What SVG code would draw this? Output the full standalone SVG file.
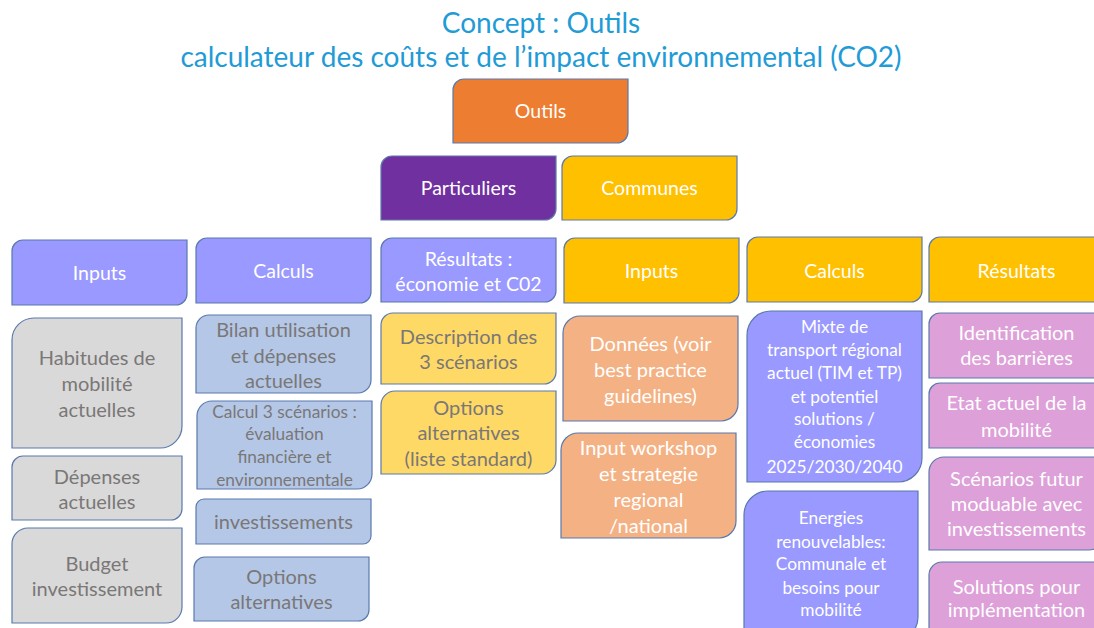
<svg xmlns="http://www.w3.org/2000/svg" width="1094" height="628" viewBox="0 0 1094 628">
<style>
  .box { stroke: #5a79ad; stroke-width: 1.2; }
  .orange { fill: #ED7D31; }
  .purple { fill: #7030A0; }
  .gold { fill: #FFC000; }
  .lav { fill: #9999FF; }
  .grey { fill: #D9D9D9; }
  .sky { fill: #B4C7E7; }
  .pale { fill: #FFD966; }
  .salmon { fill: #F4B183; }
  .plum { fill: #DDA0D8; }
  text { font-family: Lato, "Open Sans", "Liberation Sans", sans-serif; text-anchor: middle; }
  .w { fill: #ffffff; }
  .g { fill: #7a7777; }
  .title { fill: #1f9bd6; font-size: 28px; }
  .h { font-size: 19.5px; }
  .b { font-size: 20px; }
  .s { font-size: 17.3px; }
</style>

<g id="title">
  <text class="title" x="541" y="33">Concept : Outils</text>
  <text class="title" x="541" y="67">calculateur des coûts et de l’impact environnemental (CO2)</text>
</g>

<g id="outils">
  <path class="box orange" d="M464 79 H628 V132 A11 11 0 0 1 617 143 H453 V90 A11 11 0 0 1 464 79Z"/>
  <text class="w h" x="540.5" y="118">Outils</text>
</g>
<g id="particuliers">
  <path class="box purple" d="M392 156 H556 V209 A11 11 0 0 1 545 220 H381 V167 A11 11 0 0 1 392 156Z"/>
  <text class="w h" x="468.5" y="195">Particuliers</text>
</g>
<g id="communes">
  <path class="box gold" d="M573 156 H737 V209 A11 11 0 0 1 726 220 H562 V167 A11 11 0 0 1 573 156Z"/>
  <text class="w h" x="649.5" y="195">Communes</text>
</g>

<!-- particuliers: column headers -->
<g id="p-inputs">
  <path class="box lav" d="M23 240 H187 V294 A11 11 0 0 1 176 305 H12 V251 A11 11 0 0 1 23 240Z"/>
  <text class="w h" x="99.5" y="280">Inputs</text>
</g>
<g id="p-calculs">
  <path class="box lav" d="M207 238 H371 V292 A11 11 0 0 1 360 303 H196 V249 A11 11 0 0 1 207 238Z"/>
  <text class="w h" x="283.5" y="278">Calculs</text>
</g>
<g id="p-resultats">
  <path class="box lav" d="M392 238 H556 V291 A11 11 0 0 1 545 302 H381 V249 A11 11 0 0 1 392 238Z"/>
  <text class="w h" x="468.5" y="266">Résultats :</text>
  <text class="w h" x="468.5" y="291">économie et C02</text>
</g>

<!-- communes: column headers -->
<g id="c-inputs">
  <path class="box gold" d="M575 238 H739 V292 A11 11 0 0 1 728 303 H564 V249 A11 11 0 0 1 575 238Z"/>
  <text class="w h" x="651.5" y="278">Inputs</text>
</g>
<g id="c-calculs">
  <path class="box gold" d="M758 237 H922 V291 A11 11 0 0 1 911 302 H747 V248 A11 11 0 0 1 758 237Z"/>
  <text class="w h" x="834.5" y="278">Calculs</text>
</g>
<g id="c-resultats">
  <path class="box gold" d="M940 237 H1104 V291 A11 11 0 0 1 1093 302 H929 V248 A11 11 0 0 1 940 237Z"/>
  <text class="w h" x="1016.5" y="278">Résultats</text>
</g>

<!-- particuliers: inputs -->
<g id="habitudes">
  <path class="box grey" d="M34 318 H182 V426 A22 22 0 0 1 160 448 H12 V340 A22 22 0 0 1 34 318Z"/>
  <text class="g b" x="97" y="365">Habitudes de</text>
  <text class="g b" x="97" y="391">mobilité</text>
  <text class="g b" x="97" y="417">actuelles</text>
</g>
<g id="depenses">
  <path class="box grey" d="M23 456 H182 V509 A11 11 0 0 1 171 520 H12 V467 A11 11 0 0 1 23 456Z"/>
  <text class="g b" x="97" y="484">Dépenses</text>
  <text class="g b" x="97" y="509">actuelles</text>
</g>
<g id="budget">
  <path class="box grey" d="M28 528 H182 V607 A16 16 0 0 1 166 623 H12 V544 A16 16 0 0 1 28 528Z"/>
  <text class="g b" x="97" y="571">Budget</text>
  <text class="g b" x="97" y="596">investissement</text>
</g>

<!-- particuliers: calculs -->
<g id="bilan">
  <path class="box sky" d="M209 315 H371 V380 A13 13 0 0 1 358 393 H196 V328 A13 13 0 0 1 209 315Z"/>
  <text class="g b" x="283.5" y="337">Bilan utilisation</text>
  <text class="g b" x="283.5" y="363">et dépenses</text>
  <text class="g b" x="283.5" y="388">actuelles</text>
</g>
<g id="calcul-scenarios">
  <path class="box sky" d="M212 401 H372 V474 A15 15 0 0 1 357 489 H197 V416 A15 15 0 0 1 212 401Z"/>
  <text class="g s" x="284.5" y="418">Calcul 3 scénarios :</text>
  <text class="g s" x="284.5" y="440">évaluation</text>
  <text class="g s" x="284.5" y="463">financière et</text>
  <text class="g s" x="284.5" y="486">environnementale</text>
</g>
<g id="investissements">
  <path class="box sky" d="M204 499 H371 V536 A8 8 0 0 1 363 544 H196 V507 A8 8 0 0 1 204 499Z"/>
  <text class="g b" x="283.5" y="529">investissements</text>
</g>
<g id="options">
  <path class="box sky" d="M205 557 H369 V610 A11 11 0 0 1 358 621 H194 V568 A11 11 0 0 1 205 557Z"/>
  <text class="g b" x="281.5" y="584">Options</text>
  <text class="g b" x="281.5" y="609">alternatives</text>
</g>

<!-- particuliers: résultats -->
<g id="description">
  <path class="box pale" d="M393 313 H556 V372 A12 12 0 0 1 544 384 H381 V325 A12 12 0 0 1 393 313Z"/>
  <text class="g b" x="468.5" y="344">Description des</text>
  <text class="g b" x="468.5" y="369">3 scénarios</text>
</g>
<g id="options-liste">
  <path class="box pale" d="M395 391 H556 V460 A14 14 0 0 1 542 474 H381 V405 A14 14 0 0 1 395 391Z"/>
  <text class="g b" x="468.5" y="415">Options</text>
  <text class="g b" x="468.5" y="440">alternatives</text>
  <text class="g b" x="468.5" y="466">(liste standard)</text>
</g>

<!-- communes: inputs -->
<g id="donnees">
  <path class="box salmon" d="M580 316 H738 V404 A17 17 0 0 1 721 421 H563 V333 A17 17 0 0 1 580 316Z"/>
  <text class="w b" x="650.5" y="351">Données (voir</text>
  <text class="w b" x="650.5" y="377">best practice</text>
  <text class="w b" x="650.5" y="403">guidelines)</text>
</g>
<g id="workshop">
  <path class="box salmon" d="M578 433 H736 V521 A17 17 0 0 1 719 538 H561 V450 A17 17 0 0 1 578 433Z"/>
  <text class="w b" x="648.5" y="455">Input workshop</text>
  <text class="w b" x="648.5" y="481">et strategie</text>
  <text class="w b" x="648.5" y="507">regional</text>
  <text class="w b" x="648.5" y="533">/national</text>
</g>

<!-- communes: calculs -->
<g id="mixte">
  <path class="box lav" d="M771 311 H922 V458 A24 24 0 0 1 898 482 H747 V335 A24 24 0 0 1 771 311Z"/>
  <text class="w s" x="834.5" y="333">Mixte de</text>
  <text class="w s" x="834.5" y="356">transport régional</text>
  <text class="w s" x="834.5" y="379">actuel (TIM et TP)</text>
  <text class="w s" x="834.5" y="403">et potentiel</text>
  <text class="w s" x="834.5" y="425">solutions /</text>
  <text class="w s" x="834.5" y="448">économies</text>
  <text class="w s" x="834.5" y="473">2025/2030/2040</text>
</g>
<g id="energies">
  <path class="box lav" d="M768 491 H918 V617 A24 24 0 0 1 894 641 H744 V515 A24 24 0 0 1 768 491Z"/>
  <text class="w s" x="831" y="524">Energies</text>
  <text class="w s" x="831" y="548">renouvelables:</text>
  <text class="w s" x="831" y="570">Communale et</text>
  <text class="w s" x="831" y="594">besoins pour</text>
  <text class="w s" x="831" y="616">mobilité</text>
</g>

<!-- communes: résultats -->
<g id="barrieres">
  <path class="box plum" d="M940 313 H1104 V367 A11 11 0 0 1 1093 378 H929 V324 A11 11 0 0 1 940 313Z"/>
  <text class="w b" x="1016.5" y="340">Identification</text>
  <text class="w b" x="1016.5" y="365">des barrières</text>
</g>
<g id="etat">
  <path class="box plum" d="M940 383 H1104 V437 A11 11 0 0 1 1093 448 H929 V394 A11 11 0 0 1 940 383Z"/>
  <text class="w b" x="1016.5" y="410">Etat actuel de la</text>
  <text class="w b" x="1016.5" y="437">mobilité</text>
</g>
<g id="scenarios-futur">
  <path class="box plum" d="M944 457 H1104 V535 A15 15 0 0 1 1089 550 H929 V472 A15 15 0 0 1 944 457Z"/>
  <text class="w b" x="1016.5" y="486">Scénarios futur</text>
  <text class="w b" x="1016.5" y="511">moduable avec</text>
  <text class="w b" x="1016.5" y="536">investissements</text>
</g>
<g id="solutions">
  <path class="box plum" d="M942 562 H1104 V629 A13 13 0 0 1 1091 642 H929 V575 A13 13 0 0 1 942 562Z"/>
  <text class="w b" x="1016.5" y="594">Solutions pour</text>
  <text class="w b" x="1016.5" y="617">implémentation</text>
</g>
</svg>
